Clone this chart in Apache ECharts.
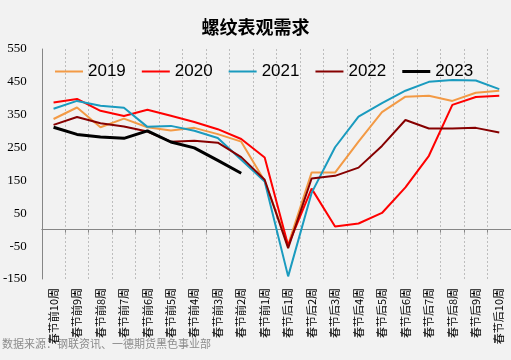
<!DOCTYPE html>
<html>
<head>
<meta charset="utf-8">
<script src="https://cdn.jsdelivr.net/npm/echarts@6/dist/echarts.min.js"></script>
<style>
html,body{margin:0;padding:0;background:#f2f2f2;}
#c{width:511px;height:360px;}
</style>
</head>
<body>
<div id="c"></div>
<script>
var categories = ['春节前10周','春节前9周','春节前8周','春节前7周','春节前6周','春节前5周','春节前4周','春节前3周','春节前2周','春节前1周',
  '春节后1周','春节后2周','春节后3周','春节后4周','春节后5周','春节后6周','春节后7周','春节后8周','春节后9周','春节后10周'];
var s2019 = [337,372,312,338,312,302,310,291,268,148,-46,174,174,268,358,405,408,392,417,423];
var s2020 = [387,398,362,346,365,347,328,306,276,220,-48,125,10,19,51,129,225,380,404,408];
var s2021 = [368,392,377,371,313,316,301,279,213,147,-142,112,251,344,385,423,450,456,454,428];
var s2022 = [319,343,324,314,299,268,271,265,221,152,-56,156,164,189,255,334,308,308,310,296];
var s2023 = [312,290,282,278,301,267,249,211,172];
var yTicks = {min:-150, max:550, interval:100};
var seriesNames = ['2019','2020','2021','2022','2023'];
var seriesData = [s2019, s2020, s2021, s2022, s2023];
var colors = ['#f39a45','#ff0000','#1a9bbf','#860000','#000000'];
var widths = [2,2,2,2,3];

var chart = echarts.init(document.getElementById('c'));
var series = seriesNames.map(function(n,i){
  return {
    name:n, type:'line', data:seriesData[i], xAxisIndex:0,
    symbol:'none', smooth:false, z: 2+i,
    lineStyle:{color:colors[i], width:widths[i]},
    itemStyle:{color:colors[i]}
  };
});
chart.setOption({
  backgroundColor:'#f2f2f2',
  animation:false,
  title:{
    text:'螺纹表观需求', left:'center', top:13,
    textStyle:{fontFamily:'Noto Sans CJK SC', fontSize:18, fontWeight:'bold', color:'#000'}
  },
  legend:{
    data:seriesNames.map(function(n,i){
      return {name:n, icon: i===4 ? 'path://M0,0L28,0L28,3L0,3Z' : 'path://M0,0L28,0L28,2L0,2Z'};
    }),
    left:50, top:58, itemWidth:28, itemHeight:14, itemGap:16,
    textStyle:{fontFamily:'Liberation Sans', fontSize:17, color:'#000'}
  },
  graphic:[{
    type:'text', left:2, top:338,
    style:{text:'数据来源：钢联资讯、一德期货黑色事业部', fill:'#8c8c8c', font:'11px "Noto Sans CJK SC"'}
  }],
  grid:{left:41, right:0, top:49, bottom:81, containLabel:false},
  xAxis:[{
    type:'category', data:categories, position:'bottom', boundaryGap:true,
    axisLine:{show:false, onZero:false},
    axisTick:{show:false},
    axisLabel:{interval:0, rotate:90, fontSize:11, fontFamily:'Noto Sans CJK SC', color:'#000', margin:9},
    splitLine:{show:true, interval:0, lineStyle:{color:'#bdbdbd', type:[2,2], width:1}}
  },{
    type:'category', data:categories, position:'top', boundaryGap:true,
    axisLine:{show:true, onZero:true, onZeroAxisIndex:0, lineStyle:{color:'#868686', width:1}},
    axisTick:{show:true, inside:true, length:3, interval:0, lineStyle:{color:'#868686'}},
    axisLabel:{show:false},
    splitLine:{show:false}
  }],
  yAxis:{
    type:'value', min:yTicks.min, max:yTicks.max, interval:yTicks.interval,
    axisLine:{show:true, lineStyle:{color:'#868686', width:1}},
    axisTick:{show:false},
    splitLine:{show:false},
    axisLabel:{fontFamily:'Liberation Serif', fontSize:13, color:'#000', margin:15}
  },
  series:series
});
</script>
</body>
</html>
